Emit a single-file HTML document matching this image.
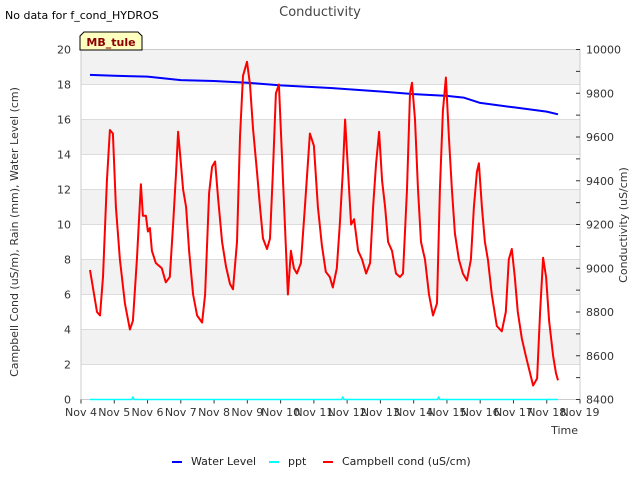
<!DOCTYPE html>
<html><head><meta charset="utf-8"><style>
body{margin:0;background:#fff;font-family:"Liberation Sans","DejaVu Sans",sans-serif}
svg text{font-family:"DejaVu Sans","Liberation Sans",sans-serif}
</style></head><body>
<svg id="c" width="640" height="480" xmlns="http://www.w3.org/2000/svg"></svg>
<script>
const dayLabels=["Nov 4","Nov 5","Nov 6","Nov 7","Nov 8","Nov 9","Nov 10","Nov 11","Nov 12","Nov 13","Nov 14","Nov 15","Nov 16","Nov 17","Nov 18","Nov 19"];
const leftTicks=[0,2,4,6,8,10,12,14,16,18,20];
const rightTicks=[8400,8600,8800,9000,9200,9400,9600,9800,10000];
const condT=[0.27,0.48,0.57,0.66,0.78,0.87,0.96,1.05,1.17,1.32,1.47,1.56,1.68,1.80,1.86,1.95,2.01,2.07,2.13,2.25,2.43,2.55,2.67,2.77,2.86,2.92,2.98,3.07,3.16,3.25,3.37,3.49,3.64,3.73,3.85,3.94,4.03,4.12,4.24,4.36,4.48,4.57,4.69,4.78,4.87,4.99,5.08,5.17,5.29,5.38,5.47,5.59,5.68,5.77,5.86,5.95,6.04,6.13,6.22,6.31,6.40,6.49,6.61,6.73,6.88,7.00,7.12,7.24,7.36,7.48,7.57,7.69,7.78,7.87,7.94,8.03,8.12,8.21,8.33,8.45,8.57,8.69,8.78,8.87,8.96,9.05,9.14,9.23,9.35,9.47,9.59,9.68,9.80,9.89,9.95,10.04,10.13,10.22,10.34,10.46,10.58,10.70,10.79,10.88,10.97,11.06,11.15,11.24,11.36,11.48,11.60,11.72,11.81,11.90,11.96,12.05,12.14,12.23,12.35,12.50,12.65,12.77,12.86,12.95,13.04,13.13,13.25,13.37,13.50,13.59,13.71,13.80,13.89,13.98,14.07,14.19,14.28,14.34];
const condV=[7.4,5,4.8,7,12.5,15.4,15.2,11,8,5.5,4.0,4.5,8,12.3,10.5,10.5,9.6,9.8,8.5,7.8,7.5,6.7,7,10,13,15.3,14,12,11,8.5,6,4.8,4.4,6,11.8,13.3,13.6,11.5,9,7.6,6.6,6.3,9,15,18.5,19.3,18,15.5,13,11,9.2,8.6,9.2,13,17.5,18,14,10,6,8.5,7.5,7.2,7.8,11,15.2,14.5,11,8.8,7.3,7,6.4,7.5,10,13,16,13,10,10.3,8.5,8,7.2,7.8,11,13.5,15.3,12.5,11,9,8.5,7.2,7,7.2,12,17.5,18.1,16,12,9,8,6,4.8,5.5,12,16.5,18.4,15,12,9.5,8,7.2,6.8,8,11,13,13.5,11,9,8,6,4.2,3.9,5,8,8.6,7,5,3.5,2.5,1.5,0.8,1.2,5,8.1,7,4.5,2.5,1.5,1.1];
const wlT=[0.27,1.0,2.0,3.0,4.0,5.0,6.0,7.5,9.0,10.0,11.0,11.5,12.0,13.0,14.0,14.34];
const wlV=[18.55,18.5,18.45,18.25,18.2,18.1,17.95,17.8,17.6,17.45,17.35,17.25,16.95,16.7,16.45,16.3];
const pptT=[0.27,1.52,1.56,1.60,7.83,7.87,7.91,10.71,10.75,10.79,14.34];
const pptV=[0,0,0.15,0,0,0.15,0,0,0.15,0,0];

const NS="http://www.w3.org/2000/svg",svg=document.getElementById('c');
const X0=81,X1=580,Y0=399.5,Y1=49.5;
const xs=d=>X0+d*(X1-X0)/15, ys=v=>Y0-v*(Y0-Y1)/20, yr=v=>Y0-(v-8400)*(Y0-Y1)/1600;
function el(t,a,p){const e=document.createElementNS(NS,t);for(const k in a)e.setAttribute(k,a[k]);(p||svg).appendChild(e);return e;}
function tx(s,a){const e=el('text',a);e.textContent=s;return e;}
for(let v=0;v<20;v+=2){const r=el('rect',{x:X0,y:ys(v+2),width:X1-X0,height:ys(v)-ys(v+2),fill:(v/2)%2==1?'#f2f2f2':'#fff'});

}
leftTicks.forEach(v=>{const l=el('line',{x1:X0,x2:X1,y1:ys(v),y2:ys(v),stroke:'#dcdcdc'});


const t=tx(v,{x:71,y:ys(v)+4,'text-anchor':'end','font-size':11,fill:'#333'});

});
el('rect',{x:X0,y:Y1,width:X1-X0,height:Y0-Y1,fill:'none',stroke:'#ccc'});
for(let v=8400;v<=10000;v+=100){el('line',{x1:X1-4,x2:X1,y1:yr(v),y2:yr(v),stroke:'#333'});}
rightTicks.forEach(v=>{const t=tx(v,{x:586,y:yr(v)+4,'font-size':11,fill:'#333'});

});
dayLabels.forEach((s,i)=>{el('line',{x1:xs(i),x2:xs(i),y1:Y0,y2:Y0+4,stroke:'#333'});
const t=tx(s,{x:xs(i),y:416,'text-anchor':'middle','font-size':11,fill:'#333'});

});
function line(T,V,c,w,f,name){const d=T.map((t,i)=>(i?'L':'M')+xs(t).toFixed(1)+','+f(V[i]).toFixed(1)).join('');
const p=el('path',{d,fill:'none',stroke:c,'stroke-width':w,'stroke-linejoin':'round'});

}
line(pptT,pptV,'#00ffff',1.5,ys,'ppt-line');
line(wlT,wlV,'#0000ff',2,ys,'water-level-line');
line(condT,condV,'#ff0000',2,ys,'campbell-cond-line');
let t;
t=tx('Conductivity',{x:320,y:16,'text-anchor':'middle','font-size':13,fill:'#444'});


t=tx('No data for f_cond_HYDROS',{x:5,y:19,'font-size':11,fill:'#000'});


t=tx('Time',{x:578,y:434,'text-anchor':'end','font-size':11,fill:'#333'});


t=tx('Campbell Cond (uS/m), Rain (mm), Water Level (cm)',{x:18,y:232,'text-anchor':'middle','font-size':11,fill:'#333',transform:'rotate(-90 18 232)'});


t=tx('Conductivity (uS/cm)',{x:627,y:225,'text-anchor':'middle','font-size':11,fill:'#333',transform:'rotate(-90 627 225)'});


const g=el('g',{});


el('path',{d:'M84,32 L138,32 L142,36 L142,50 L80,50 L80,36 Z',fill:'#ffffc0',stroke:'#000','stroke-width':1},g);
const bt=el('text',{x:111,y:46,'text-anchor':'middle','font-size':11,'font-weight':'bold',fill:'#8b0000'},g);bt.textContent='MB_tule';
const leg=[['Water Level','#0000ff',172],['ppt','#00ffff',269],['Campbell cond (uS/cm)','#ff0000',323]];
leg.forEach(([s,c,x])=>{const lg=el('g',{});


el('line',{x1:x,x2:x+10,y1:462,y2:462,stroke:c,'stroke-width':2},lg);
const e=el('text',{x:x+19,y:465,'font-size':11,fill:'#222'},lg);e.textContent=s;});
</script>
</body></html>
